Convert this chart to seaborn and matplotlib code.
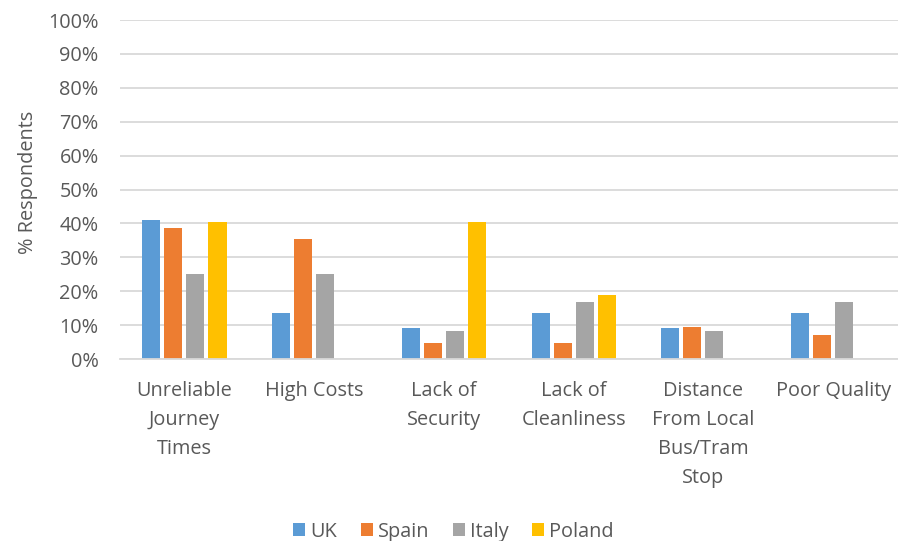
import matplotlib
matplotlib.use("Agg")
import matplotlib.pyplot as plt
import seaborn as sns
import pandas as pd
from matplotlib.ticker import PercentFormatter

categories = ["Unreliable\nJourney\nTimes", "High Costs", "Lack of\nSecurity",
              "Lack of\nCleanliness", "Distance\nFrom Local\nBus/Tram\nStop", "Poor Quality"]
countries = ["UK", "Spain", "Italy", "Poland"]
uk = [40.9, 13.6, 9.1, 13.6, 9.1, 13.6]
spain = [38.6, 35.4, 4.8, 4.8, 9.5, 7.1]
italy = [25.0, 25.0, 8.3, 16.7, 8.3, 16.7]
poland = [40.5, 0.0, 40.5, 19.0, 0.0, 0.0]
colors = ["#5B9BD5", "#ED7D31", "#A5A5A5", "#FFC000"]

rows = []
for country, vals in zip(countries, [uk, spain, italy, poland]):
    for cat, v in zip(categories, vals):
        rows.append({"Category": cat, "Country": country, "Value": v})
df = pd.DataFrame(rows)

sns.set_theme(style="white")
plt.rcParams["font.family"] = ["Open Sans", "DejaVu Sans"]
text_col = "#595959"
fs = 14.3

fig = plt.figure(figsize=(8.98, 5.41), dpi=100)
ax = fig.add_axes([0.1331, 0.3364, 0.8669, 0.6266])

sns.barplot(data=df, x="Category", y="Value", hue="Country", order=categories,
            hue_order=countries, palette=colors, width=0.68, gap=0.18,
            ax=ax, legend=True, saturation=1, linewidth=0)

ax.set_ylim(0, 100)
ax.set_yticks(range(0, 101, 10))
ax.yaxis.set_major_formatter(PercentFormatter(decimals=0))
ax.grid(axis="y", color="#D9D9D9", linewidth=1.3)
ax.set_axisbelow(True)
for s in ["top", "right", "left"]:
    ax.spines[s].set_visible(False)
ax.spines["bottom"].set_color("#D9D9D9")
ax.spines["bottom"].set_linewidth(1.3)
ax.tick_params(axis="y", length=0, pad=15, labelsize=fs, labelcolor=text_col)
ax.tick_params(axis="x", length=0, pad=15.5, labelsize=fs, labelcolor=text_col)
for lbl in ax.get_xticklabels():
    lbl.set_linespacing(1.61)
ax.set_xlabel("")
ax.set_ylabel("% Respondents", fontsize=fs, color=text_col)
ax.yaxis.set_label_coords(-0.1045, 0.52)

leg = ax.get_legend()
handles = leg.legend_handles
leg.remove()
fig.legend(handles, countries, loc="lower center", ncol=4, frameon=False,
           bbox_to_anchor=(0.505, -0.034), fontsize=fs, labelcolor=text_col,
           handlelength=0.6, handleheight=0.6, handletextpad=0.25, columnspacing=1.2)

fig.savefig("out.png", dpi=100)
